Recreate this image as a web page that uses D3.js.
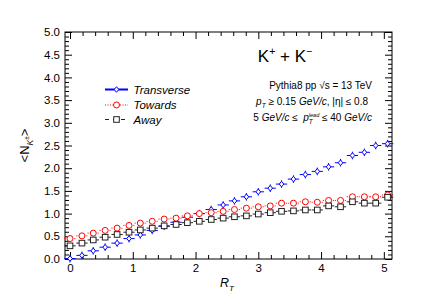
<!DOCTYPE html>
<html>
<head>
<meta charset="utf-8">
<script src="https://cdn.jsdelivr.net/npm/d3@7"></script>
<style>
  body { margin: 0; background: #fff; }
  svg { display: block; font-family: "Liberation Sans", Arial, sans-serif; }
</style>
</head>
<body>
<svg id="chart" width="436" height="305"></svg>
<script>
// R_T bin centres
const rtBins = [0, 0.19, 0.37, 0.56, 0.75, 0.94, 1.12, 1.31, 1.5, 1.69, 1.87, 2.06, 2.25, 2.44,
  2.62, 2.81, 3.0, 3.19, 3.37, 3.56, 3.75, 3.94, 4.12, 4.31, 4.5, 4.69, 4.87, 5.06];
const rtHalfWidth = 0.09;

const transverse = [0.01, 0.08, 0.18, 0.26, 0.35, 0.45, 0.53, 0.63, 0.72, 0.81, 0.92, 1.00, 1.09, 1.19,
  1.28, 1.37, 1.48, 1.56, 1.65, 1.76, 1.86, 1.93, 2.03, 2.12, 2.28, 2.35, 2.50, 2.54];
const towards = [0.45, 0.51, 0.57, 0.63, 0.68, 0.74, 0.79, 0.83, 0.88, 0.90, 0.95, 1.00, 1.02, 1.05,
  1.09, 1.12, 1.15, 1.17, 1.23, 1.23, 1.26, 1.25, 1.29, 1.29, 1.37, 1.37, 1.37, 1.41];
const away = [0.29, 0.35, 0.42, 0.48, 0.54, 0.59, 0.64, 0.68, 0.73, 0.76, 0.80, 0.83, 0.87, 0.90,
  0.93, 0.95, 0.99, 1.02, 1.05, 1.06, 1.08, 1.08, 1.17, 1.15, 1.26, 1.23, 1.23, 1.36];
// statistical errors (only the last bins are visible)
const transverseErr = [0.01, 0.01, 0.01, 0.01, 0.01, 0.01, 0.01, 0.01, 0.01, 0.01, 0.01, 0.01, 0.01, 0.01,
  0.01, 0.01, 0.01, 0.01, 0.01, 0.02, 0.02, 0.02, 0.02, 0.02, 0.03, 0.03, 0.04, 0.06];
const towardsErr = [0.01, 0.01, 0.01, 0.01, 0.01, 0.01, 0.01, 0.01, 0.01, 0.01, 0.01, 0.01, 0.01, 0.01,
  0.01, 0.01, 0.01, 0.01, 0.01, 0.01, 0.01, 0.01, 0.02, 0.02, 0.02, 0.02, 0.03, 0.05];
const awayErr = [0.01, 0.01, 0.01, 0.01, 0.01, 0.01, 0.01, 0.01, 0.01, 0.01, 0.01, 0.01, 0.01, 0.01,
  0.01, 0.01, 0.01, 0.01, 0.01, 0.01, 0.01, 0.01, 0.02, 0.02, 0.02, 0.02, 0.03, 0.07];

const yMajor = [0, 0.5, 1, 1.5, 2, 2.5, 3, 3.5, 4, 4.5, 5];
const xMajor = [0, 1, 2, 3, 4, 5];

const seriesList = [
  {name: 'Transverse', values: transverse, errs: transverseErr, color: '#0000ff', marker: 'diamond', dash: null, legendWidth: 2},
  {name: 'Towards', values: towards, errs: towardsErr, color: '#ff0000', marker: 'circle', dash: '1,1.5', legendWidth: 1},
  {name: 'Away', values: away, errs: awayErr, color: '#222222', marker: 'square', dash: '4,4', legendWidth: 1}
];

const frame = {left: 65, right: 392, top: 32, bottom: 259};

const svg = d3.select('#chart');

const x = d3.scaleLinear().domain([-0.08, 5.13]).range([frame.left, frame.right]);
const y = d3.scaleLinear().domain([0, 5]).range([frame.bottom, frame.top]);

function translate(a, b) {
  return `translate(${a}, ${b})`;
}

// ---------- axes ----------
const xMinor = d3.range(0, 5.13, 0.2).filter(v => Math.abs(v - Math.round(v)) > 0.01);
const yMinor = d3.range(0, 5.001, 0.1).filter(v => Math.abs(v * 2 - Math.round(v * 2)) > 0.01);

function styleAxis(g) {
  g.select('.domain').remove();
  g.selectAll('line').attr('stroke', '#000').attr('stroke-width', 1);
  g.selectAll('text').attr('fill', '#000').style('font-size', '11.5px')
    .style('font-family', '"Liberation Sans", Arial, sans-serif');
}

function addAxis(axisFn, scale, pos, major, minor, labels) {
  svg.append('g').attr('transform', pos)
    .call(axisFn(scale).tickValues(minor).tickSizeInner(-4).tickSizeOuter(0).tickFormat(''))
    .call(styleAxis);
  svg.append('g').attr('transform', pos)
    .call(axisFn(scale).tickValues(major).tickSizeInner(-7).tickSizeOuter(0).tickPadding(5)
      .tickFormat(labels ? labels : ''))
    .call(styleAxis);
}

addAxis(d3.axisBottom, x, translate(0, frame.bottom), xMajor, xMinor, d3.format('d'));
addAxis(d3.axisTop, x, translate(0, frame.top), xMajor, xMinor, null);
addAxis(d3.axisLeft, y, translate(frame.left, 0), yMajor, yMinor, d3.format('.1f'));
addAxis(d3.axisRight, y, translate(frame.right, 0), yMajor, yMinor, null);

svg.append('rect')
  .attr('x', frame.left).attr('y', frame.top)
  .attr('width', frame.right - frame.left).attr('height', frame.bottom - frame.top)
  .attr('fill', 'none').attr('stroke', '#000').attr('stroke-width', 1);

// ---------- rich text helper ----------
// segs: {t, it, sup, sub, hold, dy} ; hold => do not advance (stack next seg over it)
function richText(segs, anchorX, baseline, size, align) {
  const g = svg.append('g');
  let cursor = 0, held = 0;
  segs.forEach(s => {
    let fs = size, dy = 0;
    if (s.sup) { fs = size * (s.supSize || 0.6); dy = -size * 0.42; }
    if (s.sub) { fs = size * 0.65; dy = size * 0.3; }
    if (s.dy !== undefined) dy = s.dy;
    const t = g.append('text')
      .attr('x', cursor).attr('y', dy)
      .style('font-size', fs + 'px')
      .style('font-style', s.it ? 'italic' : 'normal')
      .attr('xml:space', 'preserve')
      .text(s.t);
    const w = t.node().getComputedTextLength();
    if (s.hold) {
      held = w;
    } else {
      cursor += Math.max(w, held);
      held = 0;
    }
  });
  const shift = align === 'end' ? anchorX - cursor : align === 'middle' ? anchorX - cursor / 2 : anchorX;
  g.attr('transform', translate(shift, baseline));
  return g;
}

// ---------- axis titles ----------
richText([{t: 'R', it: true}, {t: 'T', it: true, sub: true}], x(2.5), 287, 12.5, 'middle');

const yTitle = richText([{t: '<N'}, {t: 'K', it: true, sub: true}, {t: '±', sup: true, supSize: 0.5, dy: -0.5},
  {t: '>'}], 0, 0, 13, 'middle');
yTitle.attr('transform', `translate(29, ${(frame.top + frame.bottom) / 2}) rotate(-90) ` +
  yTitle.attr('transform'));

// ---------- annotations ----------
richText([{t: 'K'}, {t: '+', sup: true, supSize: 0.62}, {t: ' + K'}, {t: '\u2212', sup: true, supSize: 0.62}],
  285, 62, 17, 'middle');
richText([{t: 'Pythia8 pp \u221As = 13 TeV'}], 372, 89, 10, 'end');
richText([{t: 'p', it: true}, {t: 'T', it: true, sub: true}, {t: ' \u2265 0.15 '}, {t: 'GeV/c', it: true},
  {t: ', |\u03B7| \u2264 0.8'}], 368, 105, 10, 'end');
richText([{t: '5 '}, {t: 'GeV/c', it: true}, {t: ' \u2264  '}, {t: 'p', it: true},
  {t: 'lead', it: true, sup: true, supSize: 0.55, hold: true}, {t: 'T', it: true, sub: true},
  {t: ' \u2264 40 '}, {t: 'GeV/c', it: true}], 372, 121, 10, 'end');

// ---------- markers ----------
function drawMarker(g, kind, cx, cy, color) {
  if (kind === 'diamond') {
    g.append('path')
      .attr('d', `M${cx},${cy - 2.8}L${cx + 2.3},${cy}L${cx},${cy + 2.8}L${cx - 2.3},${cy}Z`)
      .attr('fill', '#fff').attr('stroke', color).attr('stroke-width', 1);
  } else if (kind === 'circle') {
    g.append('circle').attr('cx', cx).attr('cy', cy).attr('r', 3)
      .attr('fill', '#fff').attr('stroke', color).attr('stroke-width', 1);
  } else {
    g.append('rect').attr('x', cx - 2.8).attr('y', cy - 2.8).attr('width', 5.6).attr('height', 5.6)
      .attr('fill', '#fff').attr('stroke', color).attr('stroke-width', 1);
  }
}

const plot = svg.append('g');

seriesList.forEach(series => {
  const g = plot.append('g').attr('class', 'series');
  const points = rtBins.map((rt, i) => ({rt: rt, v: series.values[i], e: series.errs[i]}));
  const cap = series.marker === 'diamond' ? 3.8 : 0;

  // horizontal bars (bin width)
  g.selectAll('line.h').data(points).enter().append('line')
    .attr('x1', d => x(d.rt - rtHalfWidth)).attr('x2', d => x(d.rt + rtHalfWidth))
    .attr('y1', d => y(d.v)).attr('y2', d => y(d.v))
    .attr('stroke', series.color).attr('stroke-width', 1)
    .attr('stroke-dasharray', series.dash);

  // vertical error bars
  g.selectAll('line.v').data(points).enter().append('line')
    .attr('x1', d => x(d.rt)).attr('x2', d => x(d.rt))
    .attr('y1', d => Math.max(y(d.v - d.e), y(d.v) + cap))
    .attr('y2', d => Math.min(y(d.v + d.e), y(d.v) - cap))
    .attr('stroke', series.color).attr('stroke-width', 1);

  points.forEach(d => drawMarker(g, series.marker, x(d.rt), y(d.v), series.color));
});

// ---------- legend ----------
const legendY = [89.5, 105, 119.5];
seriesList.forEach((series, i) => {
  const g = svg.append('g').attr('transform', translate(0, legendY[i]));
  g.append('line').attr('x1', 105).attr('x2', 128).attr('y1', 0).attr('y2', 0)
    .attr('stroke', series.color).attr('stroke-width', series.legendWidth)
    .attr('stroke-dasharray', series.dash);
  drawMarker(g, series.marker, 116.5, 0, series.color);
  g.append('text').attr('x', 133.5).attr('y', 4)
    .style('font-size', '11.5px').style('font-style', 'italic')
    .text(series.name);
});
</script>
</body>
</html>
